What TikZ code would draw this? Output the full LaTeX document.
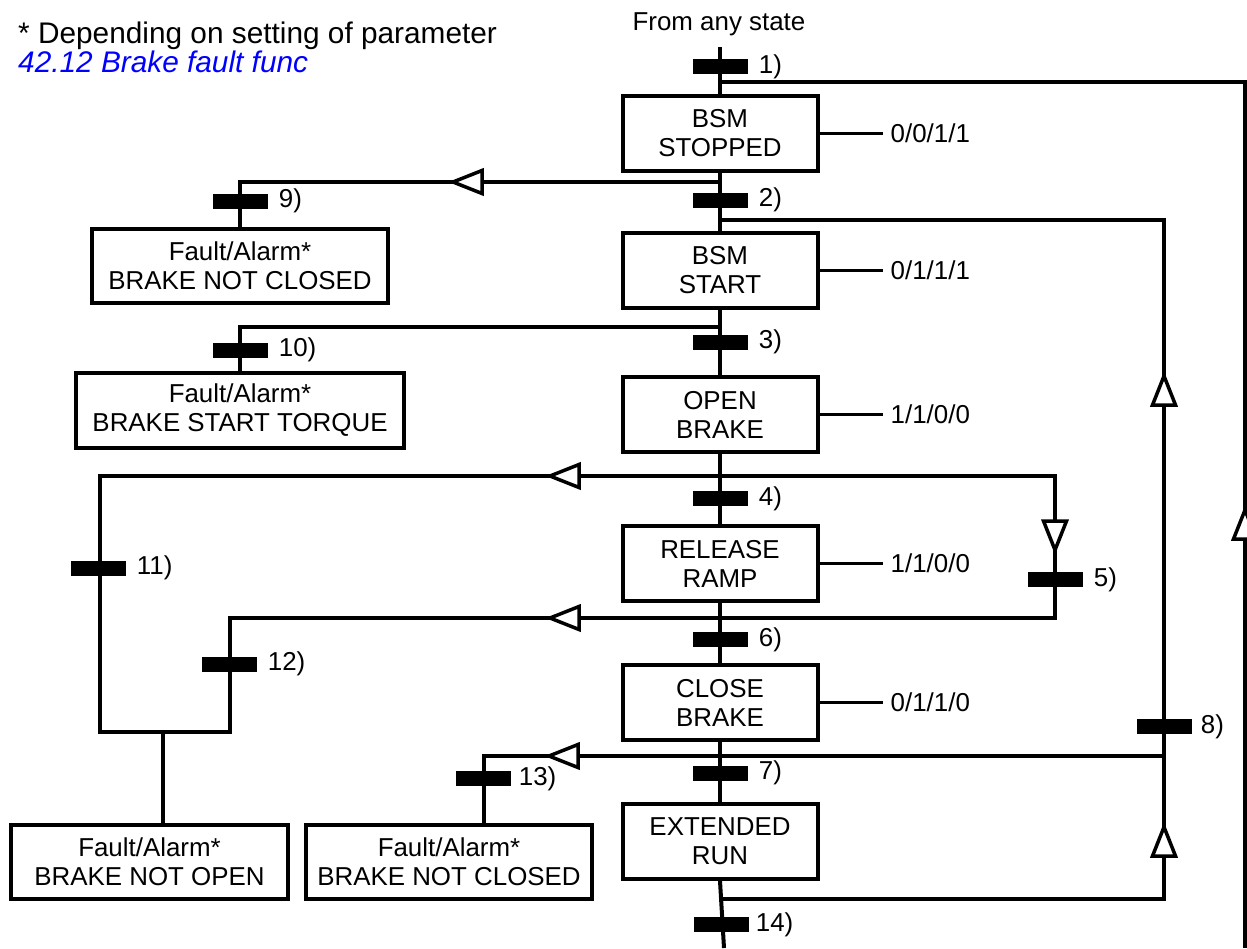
\documentclass[tikz,border=0pt]{standalone}
\usepackage{fontspec}
\setmainfont{Liberation Sans}
\usetikzlibrary{positioning}
\begin{document}
\begin{tikzpicture}[x=1pt,y=-1pt,
  every node/.style={font=\fontsize{25.9}{29}\selectfont},
  state/.style={draw, line width=4pt, minimum width=195pt, minimum height=75pt, inner sep=0pt, align=center},
  fault/.style={draw, line width=4pt, minimum height=74pt, inner sep=0pt, align=center},
  bar/.style={fill=black, minimum width=55pt, minimum height=15pt, inner sep=0pt},
  lbl/.style={anchor=west, inner sep=0pt},
  wire/.style={line width=4pt},
  outl/.style={line width=3.5pt},
  tri/.pic={\draw[fill=white,line width=3.5pt,line join=miter] (0,0) -- (-29,11.5) -- (-29,-11.5) -- cycle;}
]
\useasboundingbox (0,0) rectangle (1247,948);

% header
\node[anchor=base west, inner sep=0pt, font=\fontsize{29.8}{34}\selectfont] (hdr1) at (18,43) {* Depending on setting of parameter};
\node[anchor=base west, inner sep=0pt, text=blue, font=\fontsize{29.8}{34}\selectfont\itshape] (hdr2) at (18,72) {42.12 Brake fault func};
\node[anchor=base, inner sep=0pt] (from) at (719,30) {From any state};

% states
\node[state] (b1) at (720,133.5) {BSM\\STOPPED};
\node[state] (b2) at (720,270.5) {BSM\\START};
\node[state] (b3) at (720,414.5) {OPEN\\BRAKE};
\node[state] (b4) at (720,563.5) {RELEASE\\RAMP};
\node[state] (b5) at (720,702.5) {CLOSE\\BRAKE};
\node[state] (b6) at (720,841.5) {EXTENDED\\RUN};

% fault boxes
\node[fault, minimum width=296pt] (f9) at (240,266) {Fault/Alarm*\\BRAKE NOT CLOSED};
\node[fault, minimum width=328pt, minimum height=75pt] (f10) at (240,410.5) {Fault/Alarm*\\BRAKE START TORQUE};
\node[fault, minimum width=277pt] (f11) at (149.5,862) {Fault/Alarm*\\BRAKE NOT OPEN};
\node[fault, minimum width=286pt] (f13) at (449,862) {Fault/Alarm*\\BRAKE NOT CLOSED};

% junction coordinates
\coordinate (top) at (720,47);
\coordinate (j1) at (720,82);
\coordinate (r1) at (1245,948);
\coordinate (j9) at (720,182);
\coordinate (j2) at (720,220);
\coordinate (r2) at (1164,899);
\coordinate (j14) at (722,899);
\coordinate (j10) at (720,327);
\coordinate (lA) at (100,476);
\coordinate (lB) at (1055,476);
\coordinate (lC) at (1055,618);
\coordinate (lD) at (230,618);
\coordinate (lE) at (230,732);
\coordinate (lF) at (100,732);
\coordinate (lS) at (163,732);
\coordinate (c8) at (1164,756);
\coordinate (k13) at (484,756);
\coordinate (bot) at (724,948);

% main spine
\draw[wire] (top) -- (b1.north);
\draw[wire] (b1.south) -- (b2.north);
\draw[wire] (b2.south) -- (b3.north);
\draw[wire] (b3.south) -- (b4.north);
\draw[wire] (b4.south) -- (b5.north);
\draw[wire] (b5.south) -- (b6.north);
\draw[wire] (b6.south) -- (bot);

% loops and branches
\draw[wire] (j1) -| (r1);
\draw[wire] (j2) -| (r2) -- (j14);
\draw[wire] (j9) -| (f9.north);
\draw[wire] (j10) -| (f10.north);
\draw[wire] (lA) -- (lB) -- (lC) -- (lD) -- (lE) -- (lF) -- cycle;
\draw[wire] (lS) -- (lS |- f11.north);
\draw[wire] (c8) -- (k13) -- (k13 |- f13.north);

% output lines
\draw[outl] (b1.east) -- ++(63,0) coordinate (o1);
\node[lbl, right=8pt of o1] {0/0/1/1};
\draw[outl] (b2.east) -- ++(63,0) coordinate (o2);
\node[lbl, right=8pt of o2] {0/1/1/1};
\draw[outl] (b3.east) -- ++(63,0) coordinate (o3);
\node[lbl, right=8pt of o3] {1/1/0/0};
\draw[outl] (b4.east) -- ++(63,0) coordinate (o4);
\node[lbl, right=8pt of o4] {1/1/0/0};
\draw[outl] (b5.east) -- ++(63,0) coordinate (o5);
\node[lbl, right=8pt of o5] {0/1/1/0};

% transition bars
\node[bar] (t1) at (720,66.5) {};
\node[bar] (t2) at (720,200) {};
\node[bar] (t3) at (720,342) {};
\node[bar] (t4) at (720,498.5) {};
\node[bar] (t6) at (720,639.5) {};
\node[bar] (t7) at (720,773) {};
\node[bar] (t14) at (721,924.5) {};
\node[bar] (t5) at (1055,579.5) {};
\node[bar] (t8) at (1164,726.5) {};
\node[bar] (t9) at (240,201) {};
\node[bar] (t10) at (240,350) {};
\node[bar] (t11) at (98,568) {};
\node[bar] (t12) at (229,664) {};
\node[bar] (t13) at (483,778.5) {};

\node[lbl, right=11pt of t1] {1)};
\node[lbl, right=11pt of t2] {2)};
\node[lbl, right=11pt of t3] {3)};
\node[lbl, right=11pt of t4] {4)};
\node[lbl, right=11pt of t6] {6)};
\node[lbl, right=11pt of t7] {7)};
\node[lbl, right=7pt of t14] {14)};
\node[lbl, right=11pt of t5] {5)};
\node[lbl, right=9pt of t8] {8)};
\node[lbl, right=11pt of t9] {9)};
\node[lbl, right=11pt of t10] {10)};
\node[lbl, right=11pt of t11] {11)};
\node[lbl, right=11pt of t12] {12)};
\node[lbl, right=8pt of t13] {13)};

% open arrowheads
\pic[rotate=180] at (453,182) {tri};
\pic[rotate=180] at (550,476) {tri};
\pic[rotate=-90] at (1055,550) {tri};
\pic[rotate=180] at (550,618) {tri};
\pic[rotate=180] at (549,756) {tri};
\pic[rotate=90] at (1164,376) {tri};
\pic[rotate=90] at (1164,827) {tri};
\pic[rotate=90] at (1245,510) {tri};
\end{tikzpicture}
\end{document}
